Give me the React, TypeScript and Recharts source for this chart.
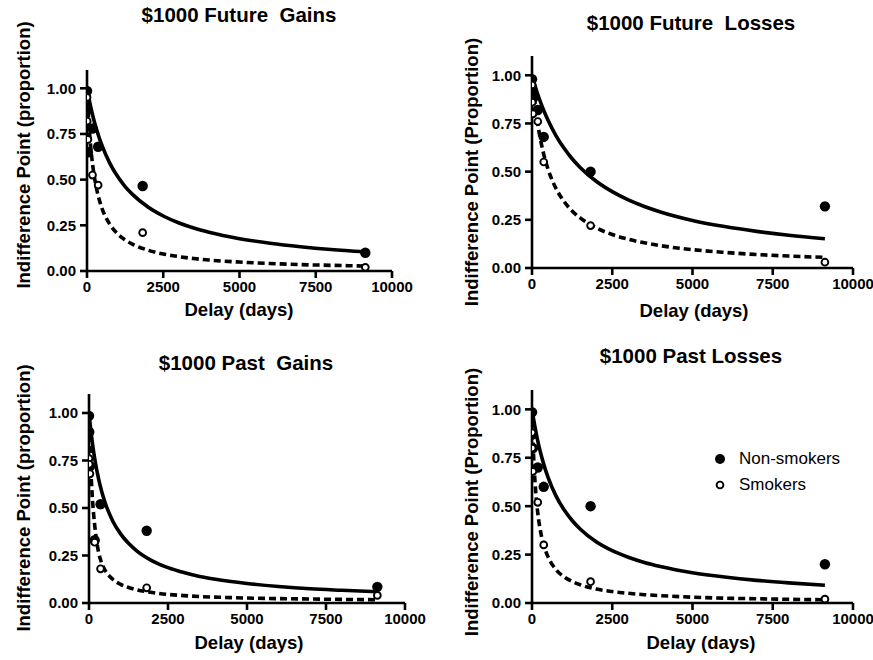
import React from "react"
import { ComposedChart, Line, Scatter, XAxis, YAxis } from "recharts"

// delays used in the task (days)
const delays = [1, 7, 30, 180, 365, 1825, 9125]
// x positions for the fitted curves
const fitDelays = [0, 25, 50, 100, 150, 200, 300, 400, 500, 750, 1000, 1250, 1500, 2000, 2500, 3000, 3500, 4000, 5000, 6000, 7000, 8000, 9125]

const xTicks = [0, 2500, 5000, 7500, 10000]
const yTicks = [0, 0.25, 0.5, 0.75, 1]

// $1000 Future Gains
const fgNonSmokers = [0.985, 0.88, 0.65, 0.78, 0.68, 0.465, 0.1]
const fgSmokers = [0.95, 0.82, 0.72, 0.525, 0.47, 0.21, 0.02]
const fgFitNon = [1, 0.977, 0.956, 0.915, 0.878, 0.843, 0.782, 0.729, 0.683, 0.589, 0.518, 0.462, 0.418, 0.35, 0.301, 0.264, 0.235, 0.212, 0.177, 0.152, 0.133, 0.118, 0.105]
const fgFitSmk = [1, 0.911, 0.837, 0.719, 0.631, 0.562, 0.461, 0.391, 0.339, 0.255, 0.204, 0.17, 0.146, 0.114, 0.093, 0.079, 0.068, 0.06, 0.049, 0.041, 0.035, 0.031, 0.027]

// $1000 Future Losses
const flNonSmokers = [0.98, 0.9, 0.88, 0.82, 0.68, 0.5, 0.32]
const flSmokers = [0.95, 0.86, 0.8, 0.76, 0.55, 0.22, 0.03]
const flFitNon = [1, 0.985, 0.97, 0.943, 0.916, 0.891, 0.845, 0.804, 0.766, 0.686, 0.621, 0.567, 0.522, 0.45, 0.396, 0.353, 0.319, 0.291, 0.247, 0.215, 0.19, 0.17, 0.152]
const flFitSmk = [1, 0.955, 0.913, 0.84, 0.778, 0.725, 0.637, 0.568, 0.513, 0.412, 0.345, 0.296, 0.26, 0.208, 0.174, 0.149, 0.131, 0.116, 0.095, 0.081, 0.07, 0.062, 0.055]

// $1000 Past Gains
const pgNonSmokers = [0.985, 0.9, 0.72, 0.33, 0.52, 0.38, 0.085]
const pgSmokers = [0.76, 0.73, 0.68, 0.32, 0.18, 0.08, 0.04]
const pgFitNon = [1, 0.958, 0.92, 0.851, 0.792, 0.741, 0.656, 0.588, 0.533, 0.432, 0.364, 0.314, 0.276, 0.222, 0.186, 0.16, 0.14, 0.125, 0.103, 0.087, 0.075, 0.067, 0.059]
const pgFitSmk = [1, 0.86, 0.74, 0.57, 0.46, 0.38, 0.27, 0.21, 0.175, 0.125, 0.098, 0.082, 0.07, 0.055, 0.045, 0.039, 0.034, 0.031, 0.026, 0.023, 0.021, 0.019, 0.017]

// $1000 Past Losses
const plNonSmokers = [0.985, 0.87, 0.8, 0.7, 0.6, 0.5, 0.2]
const plSmokers = [0.88, 0.8, 0.68, 0.52, 0.3, 0.11, 0.02]
const plFitNon = [1, 0.974, 0.949, 0.903, 0.861, 0.822, 0.755, 0.698, 0.649, 0.552, 0.481, 0.426, 0.382, 0.316, 0.27, 0.236, 0.209, 0.188, 0.156, 0.134, 0.117, 0.104, 0.092]
const plFitSmk = [1, 0.862, 0.758, 0.61, 0.51, 0.439, 0.342, 0.281, 0.238, 0.172, 0.135, 0.111, 0.094, 0.072, 0.059, 0.05, 0.043, 0.038, 0.03, 0.025, 0.022, 0.019, 0.017]

const FONT = "'Liberation Sans', Arial, Helvetica, sans-serif"

const toPoints = (xs: number[], ys: number[]) => xs.map((x, i) => ({ x, y: ys[i] }))

const FilledDot = (props: any) => <circle cx={props.cx} cy={props.cy} r={5.2} fill="#000" />
const OpenDot = (props: any) => (
  <circle cx={props.cx} cy={props.cy} r={3.4} fill="#fff" stroke="#000" strokeWidth={1.9} />
)

const Y_AXIS_W = 50
const M_TOP = 10
const M_RIGHT = 25
const X_AXIS_H = 30

interface PanelProps {
  title: string
  yLabel: string
  plot: { left: number; right: number; top: number; bottom: number }
  titleAt: [number, number]
  xLabelAt: [number, number]
  yLabelAt: [number, number]
  non: number[]
  smk: number[]
  fitNon: number[]
  fitSmk: number[]
}

function Panel({ title, yLabel, plot, titleAt, xLabelAt, yLabelAt, non, smk, fitNon, fitSmk }: PanelProps) {
  const width = Y_AXIS_W + (plot.right - plot.left) + M_RIGHT
  const height = M_TOP + (plot.bottom - plot.top) + X_AXIS_H
  const tickStyle = { fontSize: 15, fontWeight: 700, fill: "#000", fontFamily: FONT }
  const axisLine = { stroke: "#000", strokeWidth: 2.6 }

  return (
    <>
      <div
        style={{
          position: "absolute",
          left: titleAt[0],
          top: titleAt[1],
          transform: "translate(-50%, -50%)",
          whiteSpace: "pre",
          fontSize: 20.5,
          fontWeight: 700,
        }}
      >
        {title}
      </div>
      <div
        style={{
          position: "absolute",
          left: xLabelAt[0],
          top: xLabelAt[1],
          transform: "translate(-50%, -50%)",
          whiteSpace: "pre",
          fontSize: 18.5,
          fontWeight: 700,
        }}
      >
        Delay (days)
      </div>
      <div
        style={{
          position: "absolute",
          left: yLabelAt[0],
          top: yLabelAt[1],
          transform: "translate(-50%, -50%) rotate(-90deg)",
          whiteSpace: "pre",
          fontSize: 18.5,
          fontWeight: 700,
        }}
      >
        {yLabel}
      </div>
      <div style={{ position: "absolute", left: plot.left - Y_AXIS_W, top: plot.top - M_TOP }}>
        <ComposedChart width={width} height={height} margin={{ top: M_TOP, right: M_RIGHT, bottom: 0, left: 0 }}>
          <XAxis
            type="number"
            dataKey="x"
            domain={[0, 10000]}
            ticks={xTicks}
            interval={0}
            height={X_AXIS_H}
            tick={tickStyle}
            tickSize={7}
            tickMargin={3}
            axisLine={axisLine}
            tickLine={axisLine}
            allowDataOverflow
          />
          <YAxis
            type="number"
            dataKey="y"
            domain={[0, 1.1]}
            ticks={yTicks}
            interval={0}
            width={Y_AXIS_W}
            tick={tickStyle}
            tickSize={7}
            tickMargin={4}
            tickFormatter={(v: number) => v.toFixed(2)}
            axisLine={axisLine}
            tickLine={axisLine}
            allowDataOverflow
          />
          <Line
            data={toPoints(fitDelays, fitNon)}
            dataKey="y"
            type="monotone"
            stroke="#000"
            strokeWidth={3.6}
            dot={false}
            activeDot={false}
            isAnimationActive={false}
          />
          <Line
            data={toPoints(fitDelays, fitSmk)}
            dataKey="y"
            type="monotone"
            stroke="#000"
            strokeWidth={3.6}
            strokeDasharray="7 4"
            dot={false}
            activeDot={false}
            isAnimationActive={false}
          />
          <Scatter data={toPoints(delays, non)} dataKey="y" shape={FilledDot} isAnimationActive={false} />
          <Scatter data={toPoints(delays, smk)} dataKey="y" shape={OpenDot} isAnimationActive={false} />
        </ComposedChart>
      </div>
    </>
  )
}

export default function App() {
  return (
    <div
      style={{
        position: "absolute",
        left: 0,
        top: 0,
        width: 873,
        height: 660,
        background: "#fff",
        fontFamily: FONT,
        color: "#000",
        overflow: "hidden",
      }}
    >
      <Panel
        title="$1000 Future  Gains"
        yLabel="Indifference Point (proportion)"
        plot={{ left: 87, right: 392, top: 70, bottom: 271 }}
        titleAt={[239, 15]}
        xLabelAt={[239, 310]}
        yLabelAt={[24, 155]}
        non={fgNonSmokers}
        smk={fgSmokers}
        fitNon={fgFitNon}
        fitSmk={fgFitSmk}
      />
      <Panel
        title="$1000 Future  Losses"
        yLabel="Indifference Point (Proportion)"
        plot={{ left: 532, right: 853, top: 56, bottom: 268 }}
        titleAt={[691, 23]}
        xLabelAt={[694, 311]}
        yLabelAt={[472, 172]}
        non={flNonSmokers}
        smk={flSmokers}
        fitNon={flFitNon}
        fitSmk={flFitSmk}
      />
      <Panel
        title="$1000 Past  Gains"
        yLabel="Indifference Point (proportion)"
        plot={{ left: 89, right: 405, top: 394, bottom: 603 }}
        titleAt={[246, 363]}
        xLabelAt={[249, 643]}
        yLabelAt={[24, 498]}
        non={pgNonSmokers}
        smk={pgSmokers}
        fitNon={pgFitNon}
        fitSmk={pgFitSmk}
      />
      <Panel
        title="$1000 Past Losses"
        yLabel="Indifference Point (Proportion)"
        plot={{ left: 532, right: 853, top: 390, bottom: 603 }}
        titleAt={[691, 356]}
        xLabelAt={[701, 643]}
        yLabelAt={[472, 502]}
        non={plNonSmokers}
        smk={plSmokers}
        fitNon={plFitNon}
        fitSmk={plFitSmk}
      />
      {/* legend inside the Past Losses panel */}
      <div style={{ position: "absolute", left: 714, top: 446, fontSize: 17, lineHeight: "26px" }}>
        <div style={{ display: "flex", alignItems: "center" }}>
          <svg width={14} height={14} style={{ marginRight: 11 }}>
            <circle cx={6} cy={7} r={5} fill="#000" />
          </svg>
          Non-smokers
        </div>
        <div style={{ display: "flex", alignItems: "center" }}>
          <svg width={14} height={14} style={{ marginRight: 11 }}>
            <circle cx={6} cy={7} r={3.4} fill="#fff" stroke="#000" strokeWidth={1.9} />
          </svg>
          Smokers
        </div>
      </div>
    </div>
  )
}
